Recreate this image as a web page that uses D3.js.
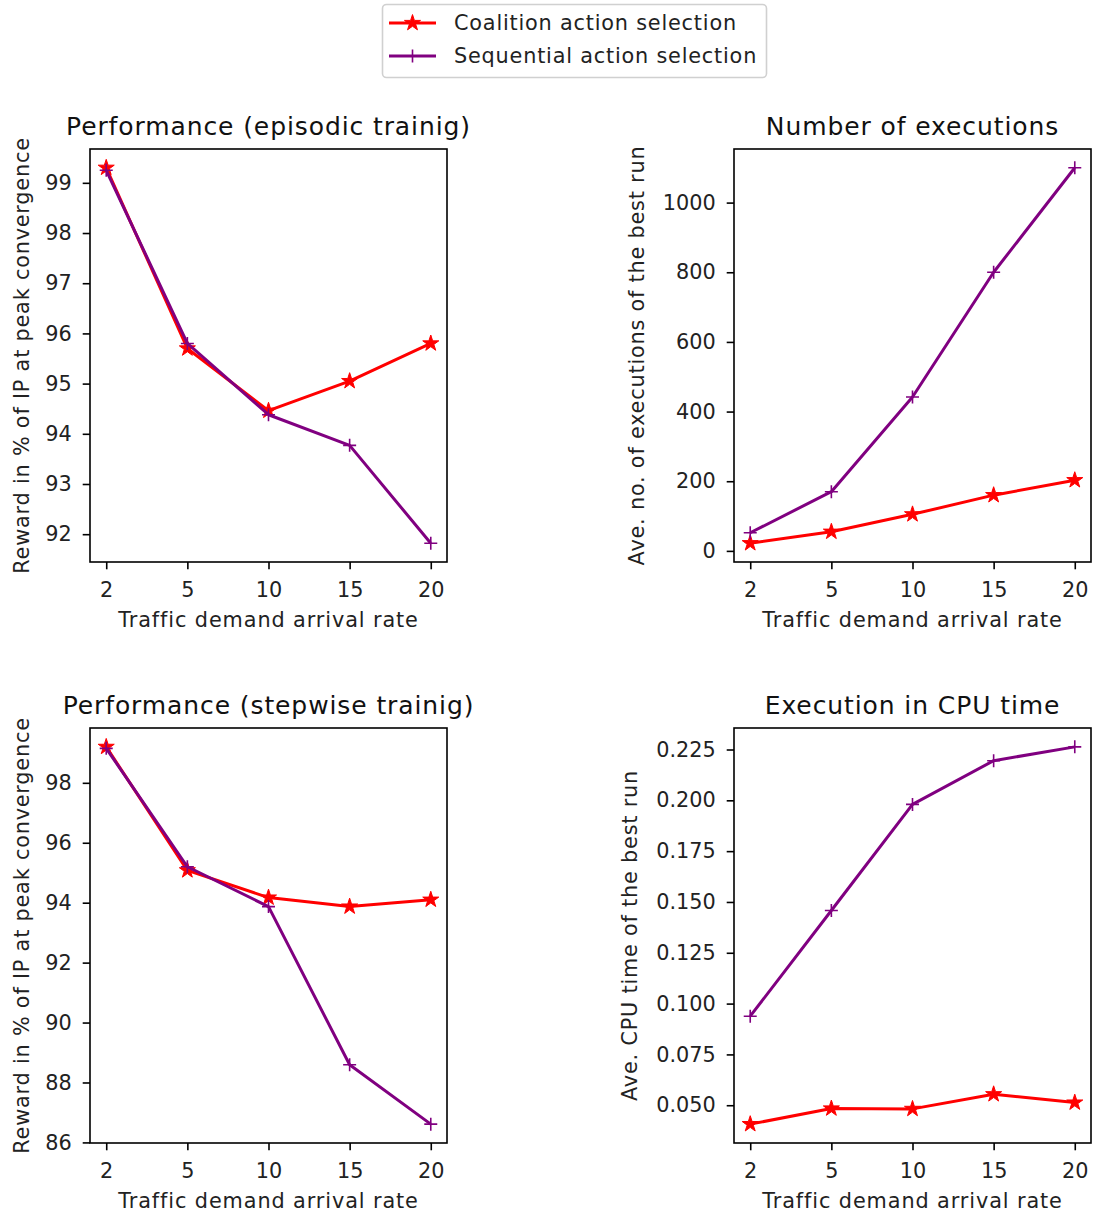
<!DOCTYPE html>
<html>
<head>
<meta charset="utf-8">
<script src="https://cdn.jsdelivr.net/npm/d3@7"></script>
<style>
  html, body { margin: 0; padding: 0; background: #fff; }
  svg { display: block; font-family: "DejaVu Sans", sans-serif; }
</style>
</head>
<body>
<svg id="chart" width="1095" height="1213"></svg>
<script>
// ---------- data ----------
const categories = ["2", "5", "10", "15", "20"];
const seriesNames = ["Coalition action selection", "Sequential action selection"];

const episodicCoalition = [99.3, 95.7, 94.46, 95.05, 95.8];
const episodicSequential = [99.25, 95.8, 94.38, 93.77, 91.82];

const execCoalition = [22, 55, 105, 160, 203];
const execSequential = [52, 170, 442, 800, 1100];

const stepCoalition = [99.2, 95.08, 94.17, 93.87, 94.1];
const stepSequential = [99.15, 95.2, 93.87, 88.59, 86.61];

const cpuCoalition = [0.0407, 0.0484, 0.0482, 0.0554, 0.0513];
const cpuSequential = [0.0938, 0.1458, 0.198, 0.2195, 0.2263];

const ticksEpisodic = [92, 93, 94, 95, 96, 97, 98, 99];
const ticksExec = [0, 200, 400, 600, 800, 1000];
const ticksStep = [86, 88, 90, 92, 94, 96, 98];
const ticksCpu = [0.050, 0.075, 0.100, 0.125, 0.150, 0.175, 0.200, 0.225];

const titles = ["Performance (episodic trainig)", "Number of executions",
                "Performance (stepwise trainig)", "Execution in CPU time"];
const yLabels = ["Reward in % of IP at peak convergence", "Ave. no. of executions of the best run",
                 "Reward in % of IP at peak convergence", "Ave. CPU time of the best run"];
const xLabel = "Traffic demand arrival rate";

// ---------- style ----------
const colors = ["#ff0000", "#800080"];
const FS = 20.8, TFS = 25;
const svg = d3.select("#chart");

const panels = [
  { box: [90, 149, 447, 562], data: [episodicCoalition, episodicSequential], ticks: ticksEpisodic, fmt: d3.format("d"), title: titles[0], ylab: yLabels[0], ylabX: 22 },
  { box: [734, 149, 1091, 562], data: [execCoalition, execSequential], ticks: ticksExec, fmt: d3.format("d"), title: titles[1], ylab: yLabels[1], ylabX: 637 },
  { box: [90, 728, 447, 1143], data: [stepCoalition, stepSequential], ticks: ticksStep, fmt: d3.format("d"), title: titles[2], ylab: yLabels[2], ylabX: 22 },
  { box: [734, 728, 1091, 1143], data: [cpuCoalition, cpuSequential], ticks: ticksCpu, fmt: d3.format(".3f"), title: titles[3], ylab: yLabels[3], ylabX: 630 }
];

const starPath = d3.symbol().type(d3.symbolStar).size(80)();
const plusPath = "M-6.5,0H6.5M0,-6.5V6.5";

function drawMarker(g, i, x, y) {
  if (i === 0) {
    g.append("path").attr("d", starPath).attr("transform", `translate(${x},${y})`)
      .attr("fill", colors[0]).attr("stroke", colors[0]).attr("stroke-width", 1);
  } else {
    g.append("path").attr("d", plusPath).attr("transform", `translate(${x},${y})`)
      .attr("fill", "none").attr("stroke", colors[1]).attr("stroke-width", 1.6);
  }
}

panels.forEach(p => {
  const [x0, y0, x1, y1] = p.box;
  const n = categories.length;
  const x = d3.scaleLinear().domain([-0.05 * (n - 1), (n - 1) * 1.05]).range([x0, x1]);
  const all = p.data.flat();
  const mn = d3.min(all), mx = d3.max(all), m = (mx - mn) * 0.05;
  const y = d3.scaleLinear().domain([mn - m, mx + m]).range([y1, y0]);

  const g = svg.append("g");

  // x axis
  const xa = g.append("g").attr("transform", `translate(0,${y1})`)
    .call(d3.axisBottom(x).tickValues(d3.range(n)).tickFormat(i => categories[i]).tickSize(7.3).tickPadding(13));
  xa.select(".domain").remove();
  xa.selectAll("line").attr("stroke", "#000").attr("stroke-width", 1.6);
  xa.selectAll("text").attr("font-size", FS).attr("fill", "#222").attr("font-family", "DejaVu Sans");

  // y axis
  const ya = g.append("g").attr("transform", `translate(${x0},0)`)
    .call(d3.axisLeft(y).tickValues(p.ticks).tickFormat(p.fmt).tickSize(7.3).tickPadding(11));
  ya.select(".domain").remove();
  ya.selectAll("line").attr("stroke", "#000").attr("stroke-width", 1.6);
  ya.selectAll("text").attr("font-size", FS).attr("fill", "#222").attr("font-family", "DejaVu Sans");

  // lines & markers
  p.data.forEach((vals, i) => {
    const line = d3.line().x((d, k) => x(k)).y(d => y(d));
    g.append("path").datum(vals).attr("d", line).attr("fill", "none")
      .attr("stroke", colors[i]).attr("stroke-width", 3).attr("stroke-linejoin", "round");
    vals.forEach((v, k) => drawMarker(g, i, x(k), y(v)));
  });

  // frame
  g.append("rect").attr("x", x0).attr("y", y0).attr("width", x1 - x0).attr("height", y1 - y0)
    .attr("fill", "none").attr("stroke", "#000").attr("stroke-width", 1.6);

  // title
  g.append("text").attr("x", (x0 + x1) / 2).attr("y", y0 - 14).attr("text-anchor", "middle")
    .attr("font-size", TFS).attr("letter-spacing", 0.9).attr("fill", "#111").text(p.title);

  // x label
  g.append("text").attr("x", (x0 + x1) / 2).attr("y", y1 + 65).attr("text-anchor", "middle")
    .attr("font-size", FS).attr("letter-spacing", 0.9).attr("fill", "#222").text(xLabel);

  // y label
  g.append("text").attr("transform", `translate(${p.ylabX},${(y0 + y1) / 2}) rotate(-90)`)
    .attr("text-anchor", "middle").attr("dominant-baseline", "central")
    .attr("font-size", FS).attr("letter-spacing", 0.8).attr("fill", "#222").text(p.ylab);
});

// ---------- legend ----------
const lg = svg.append("g");
lg.append("rect").attr("x", 382.5).attr("y", 4.5).attr("width", 384).attr("height", 73).attr("rx", 4)
  .attr("fill", "#fff").attr("stroke", "#d0d0d0").attr("stroke-width", 1.6);
seriesNames.forEach((name, i) => {
  const cy = 23 + i * 33;
  lg.append("line").attr("x1", 389).attr("x2", 436).attr("y1", cy).attr("y2", cy)
    .attr("stroke", colors[i]).attr("stroke-width", 3);
  drawMarker(lg, i, 412.5, cy);
  lg.append("text").attr("x", 454).attr("y", cy).attr("dominant-baseline", "central")
    .attr("font-size", FS).attr("letter-spacing", 0.8).attr("fill", "#222").text(name);
});
</script>
</body>
</html>
